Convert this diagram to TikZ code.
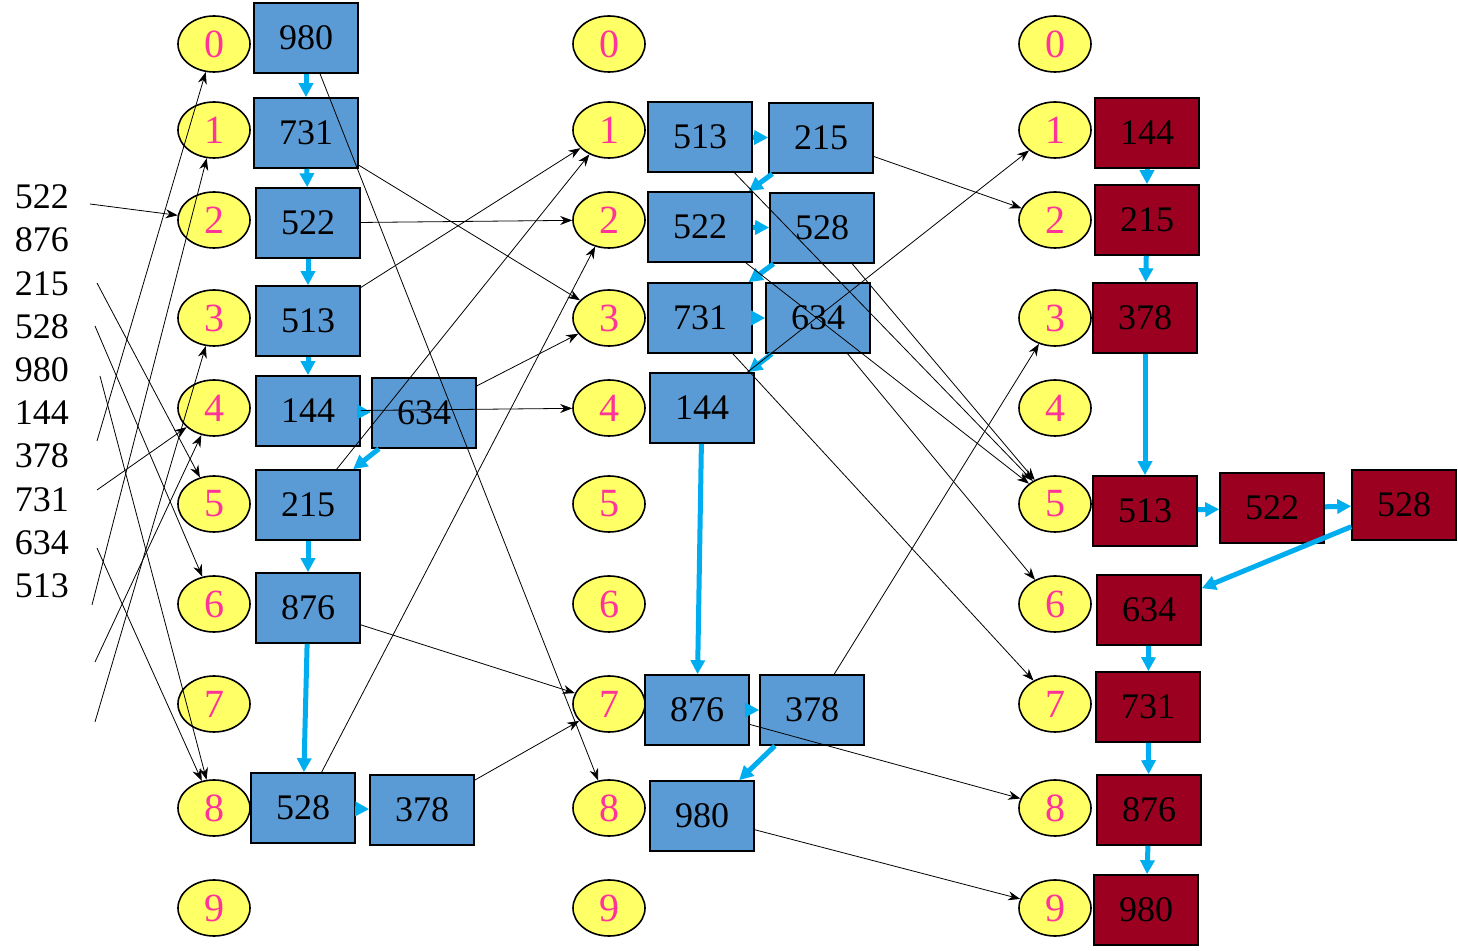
\documentclass[tikz,border=0pt]{standalone}
\usepackage{fontspec}
\setmainfont{Liberation Serif}
\usetikzlibrary{shapes.geometric,arrows.meta}
\definecolor{bagyellow}{HTML}{FFFF66}
\definecolor{digitpink}{HTML}{FF3399}
\definecolor{boxblue}{HTML}{5B9BD5}
\definecolor{boxred}{HTML}{9B0020}
\tikzset{
  bag/.style={ellipse, draw, thick, fill=bagyellow, minimum width=36pt, minimum height=28pt,
    inner sep=0pt, text=digitpink, font=\fontsize{20}{20}\selectfont,
    append after command={
      \pgfextra{\let\bagnode\tikzlastnode}
      [draw, thick, fill=bagyellow] ([shift={(-9,3)}]\bagnode.north) -- ++(-18,-17) -- ++(15,4) -- ++(6,-5)
        -- ++(6,6) -- ++(6,-6) -- ++(6,5) -- ++(15,-4) -- ++(-18,17) -- cycle}},
  key/.style={draw, thick, fill=boxblue, minimum width=52pt, minimum height=35pt,
    inner sep=0pt, font=\fontsize{18}{18}\selectfont},
  keyred/.style={key, fill=boxred},
  link/.style={-{Triangle[length=7pt,width=7pt]}, cyan, line width=2.5pt},
  pass/.style={-{Stealth[length=6pt]}, thin}
}
\begin{document}
\begin{tikzpicture}[x=0.5pt, y=-0.5pt]
		\useasboundingbox (0,0) rectangle (1458,951);
		% input list
		\foreach \v [count=\i from 0] in {522,876,215,528,980,144,378,731,634,513}
			\node[font=\fontsize{18}{18}\selectfont] (in\i) at (42,{197+43.2*\i}) {\v};
		% buckets
		\foreach \d/\y in {0/44,1/130,2/220,3/318,4/408,5/504,6/604,7/704,8/808,9/908} {
			\node[bag] (a\d) at (214,\y) {\d};
			\node[bag] (b\d) at (609,\y) {\d};
			\node[bag] (c\d) at (1055,\y) {\d};
		}
		% first pass
		\node[key] (p980) at (306,38) {980};
		\node[key] (p731) at (306,133) {731};
		\node[key] (p522) at (308,223) {522};
		\node[key] (p513) at (308,321) {513};
		\node[key] (p144) at (308,411) {144};
		\node[key] (p634) at (424,413) {634};
		\node[key] (p215) at (308,505) {215};
		\node[key] (p876) at (308,608) {876};
		\node[key] (p528) at (303,808) {528};
		\node[key] (p378) at (422,810) {378};
		% second pass
		\node[key] (q513) at (700,137) {513};
		\node[key] (q215) at (821,138) {215};
		\node[key] (q522) at (700,227) {522};
		\node[key] (q528) at (822,228) {528};
		\node[key] (q731) at (700,318) {731};
		\node[key] (q634) at (818,318) {634};
		\node[key] (q144) at (702,408) {144};
		\node[key] (q876) at (697,710) {876};
		\node[key] (q378) at (812,710) {378};
		\node[key] (q980) at (702,816) {980};
		% third pass
		\node[keyred] (r144) at (1147,133) {144};
		\node[keyred] (r215) at (1147,220) {215};
		\node[keyred] (r378) at (1145,318) {378};
		\node[keyred] (r513) at (1145,511) {513};
		\node[keyred] (r522) at (1272,508) {522};
		\node[keyred] (r528) at (1404,505) {528};
		\node[keyred] (r634) at (1149,610) {634};
		\node[keyred] (r731) at (1148,707) {731};
		\node[keyred] (r876) at (1149,810) {876};
		\node[keyred] (r980) at (1146,910) {980};
		% chains
		\foreach \a/\b in {980/731,731/522,522/513,513/144,144/634,634/215,215/876,876/528,528/378}
			\draw[link] (p\a) -- (p\b);
		\foreach \a/\b in {513/215,215/522,522/528,528/731,731/634,634/144,144/876,876/378,378/980}
			\draw[link] (q\a) -- (q\b);
		\foreach \a/\b in {144/215,215/378,378/513,513/522,522/528,528/634,634/731,731/876,876/980}
			\draw[link] (r\a) -- (r\b);
		% distribution into buckets
		\coordinate (s0) at (90,204);  \coordinate (s1) at (97,283);
		\coordinate (s2) at (95,326);  \coordinate (s3) at (100,376);
		\coordinate (s4) at (97,441);  \coordinate (s5) at (97,490);
		\coordinate (s6) at (97,548);  \coordinate (s7) at (92,605);
		\coordinate (s8) at (95,662);  \coordinate (s9) at (95,722);
		\draw[pass] (s0) -- (a2);
		\draw[pass] (s1) -- (a5);
		\draw[pass] (s2) -- (a6);
		\draw[pass] (s3) -- (a8);
		\draw[pass] (s4) -- (a0);
		\draw[pass] (s5) -- (a4);
		\draw[pass] (s6) -- (a8);
		\draw[pass] (s7) -- (a1);
		\draw[pass] (s8) -- (a4);
		\draw[pass] (s9) -- (a3);
		\foreach \k/\d in {980/8,731/3,522/2,513/1,144/4,634/3,215/1,876/7,528/2,378/7}
			\draw[pass] (p\k) -- (b\d);
		\foreach \k/\d in {215/2,528/5,513/5,522/5,634/6,731/7,144/1,378/3,876/8,980/9}
			\draw[pass] (q\k) -- (c\d);
	\end{tikzpicture}
\end{document}
